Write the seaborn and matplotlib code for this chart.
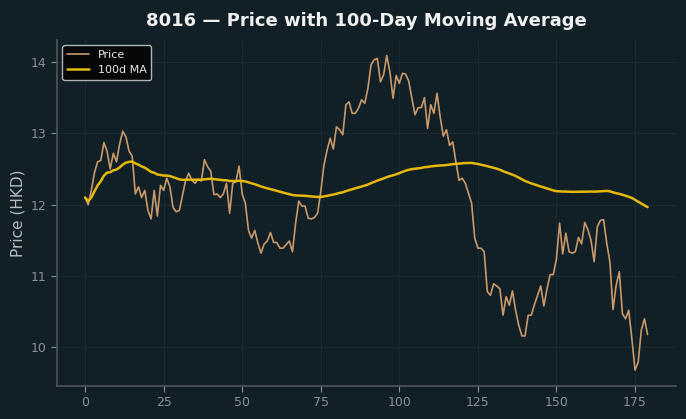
import matplotlib
matplotlib.use("Agg")
import matplotlib.pyplot as plt
import numpy as np
import pandas as pd
import seaborn as sns

# daily closing prices (HKD)
price = [
    12.10, 12.00, 12.20, 12.45, 12.60, 12.62, 12.87, 12.75, 12.50, 12.72,
    12.60, 12.85, 13.03, 12.95, 12.75, 12.68, 12.15, 12.25, 12.10, 12.20,
    11.92, 11.80, 12.20, 11.84, 12.27, 12.20, 12.37, 12.25, 11.96, 11.90,
    11.92, 12.13, 12.34, 12.44, 12.34, 12.30, 12.36, 12.33, 12.63, 12.53,
    12.47, 12.14, 12.15, 12.10, 12.15, 12.30, 11.88, 12.30, 12.32, 12.54,
    12.15, 12.02, 11.64, 11.53, 11.64, 11.46, 11.32, 11.45, 11.49, 11.61,
    11.47, 11.47, 11.39, 11.39, 11.44, 11.49, 11.34, 11.74, 12.05, 11.98,
    11.98, 11.81, 11.80, 11.82, 11.88, 12.18, 12.55, 12.76, 12.93, 12.78,
    13.09, 13.05, 12.98, 13.40, 13.44, 13.28, 13.28, 13.35, 13.47, 13.42,
    13.63, 13.96, 14.03, 14.05, 13.72, 13.82, 14.09, 13.86, 13.49, 13.81,
    13.70, 13.84, 13.83, 13.73, 13.49, 13.26, 13.36, 13.36, 13.50, 13.07,
    13.40, 13.28, 13.56, 13.23, 12.96, 13.05, 12.83, 12.88, 12.60, 12.34,
    12.37, 12.30, 12.16, 12.02, 11.53, 11.39, 11.39, 11.34, 10.78, 10.73,
    10.89, 10.86, 10.82, 10.45, 10.71, 10.59, 10.79, 10.52, 10.31, 10.16,
    10.16, 10.45, 10.45, 10.60, 10.73, 10.86, 10.58, 10.82, 11.02, 11.02,
    11.24, 11.74, 11.31, 11.60, 11.34, 11.32, 11.34, 11.54, 11.45, 11.75,
    11.65, 11.50, 11.20, 11.69, 11.78, 11.79, 11.46, 11.20, 10.53, 10.87,
    11.06, 10.47, 10.40, 10.52, 10.12, 9.68, 9.79, 10.24, 10.40, 10.18,
]
ticker = "8016"
ma_window = 100

BG = "#111f26"

df = pd.DataFrame({"day": np.arange(len(price)), "price": price})
df["ma"] = df["price"].rolling(ma_window, min_periods=1).mean()

sns.set_theme(style="whitegrid", rc={
    "figure.facecolor": BG,
    "axes.facecolor": BG,
    "axes.edgecolor": "#4a5358",
    "grid.color": "#1a2a31",
    "grid.linewidth": 0.8,
    "xtick.color": "#8a9094",
    "ytick.color": "#8a9094",
    "xtick.bottom": True,
    "ytick.left": True,
    "axes.labelcolor": "#b8bcbf",
})
plt.rcParams["font.family"] = ["DejaVu Sans"]

fig, ax = plt.subplots(figsize=(6.86, 4.19), dpi=100)
fig.subplots_adjust(left=0.083, right=0.985, bottom=0.079, top=0.905)

sns.lineplot(data=df, x="day", y="price", ax=ax, color="#c9996a", linewidth=1.2, label="Price")
sns.lineplot(data=df, x="day", y="ma", ax=ax, color="#e5b80b", linewidth=1.8, label="100d MA")

sns.despine(ax=ax)
ax.set_title(f"{ticker} \u2014 Price with 100-Day Moving Average", color="#f0f0f0",
             fontsize=13, fontweight="bold", pad=10)
ax.set_xlabel("")
ax.set_ylabel("Price (HKD)", fontsize=11)
ax.tick_params(labelsize=9, length=4, width=0.8)
ax.set_xticks([0, 25, 50, 75, 100, 125, 150, 175])
ax.set_yticks([10, 11, 12, 13, 14])

leg = ax.legend(loc="upper left", fontsize=8, facecolor="#050708", edgecolor="#b0b4b6",
                framealpha=1.0, borderpad=0.4, handlelength=2.0)
for t in leg.get_texts():
    t.set_color("#e8e8e8")

fig.savefig("out.png", dpi=100, facecolor=BG)
plt.close(fig)
